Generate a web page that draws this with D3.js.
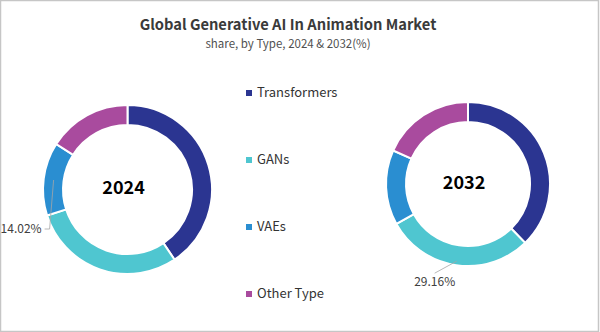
<!DOCTYPE html>
<html>
<head>
<meta charset="utf-8">
<script src="https://cdn.jsdelivr.net/npm/d3@7"></script>
<style>
  body { margin: 0; background: #fff; }
  svg { display: block; font-family: "Noto Sans CJK KR", "Noto Sans", sans-serif; }
</style>
</head>
<body>
<div id="chart"></div>
<script>
// data
var types = ["Transformers", "GANs", "VAEs", "Other Type"];
var colors = ["#2b3591", "#4fc6d0", "#2a8ed1", "#a94b9e"];
var share2024 = [40.6, 29.42, 14.02, 15.96];
var share2032 = [37.74, 29.16, 14.8, 18.3];
var years = ["2024", "2032"];

var width = 600, height = 332;

var svg = d3.select("#chart").append("svg")
  .attr("width", width)
  .attr("height", height);

// frame
svg.append("rect")
  .attr("x", 0.5).attr("y", 0.5)
  .attr("width", width - 2).attr("height", height - 1)
  .style("fill", "white")
  .style("stroke", "#c6c6c6")
  .style("stroke-width", 1.5);

svg.append("text")
  .attr("x", 288).attr("y", 30)
  .attr("text-anchor", "middle")
  .style("font-size", "14.7px")
  .style("font-weight", "bold")
  .style("fill", "#3a3a3a")
  .text("Global Generative AI In Animation Market");

svg.append("text")
  .attr("x", 288).attr("y", 48)
  .attr("text-anchor", "middle")
  .style("font-size", "11.5px")
  .style("fill", "#505050")
  .text("share, by Type, 2024 & 2032(%)");

var color = d3.scaleOrdinal().domain(types).range(colors);

var pie = d3.pie().sort(null).value(function(d) { return d.value; });

var donuts = [
  { year: years[0], values: share2024, cx: 127.5, cy: 189.5, r: 84.5, label: 2 },
  { year: years[1], values: share2032, cx: 468, cy: 184, r: 82, label: 1 }
];

donuts.forEach(function(dn) {
  var rows = types.map(function(t, i) { return { type: t, value: dn.values[i] }; });
  var arcs = pie(rows);
  var inner = dn.r - 20;
  var arc = d3.arc().innerRadius(inner).outerRadius(dn.r);

  var g = svg.append("g").attr("transform", "translate(" + dn.cx + "," + dn.cy + ")");

  g.selectAll("path")
    .data(arcs)
    .enter()
    .append("path")
      .attr("d", arc)
      .style("fill", function(d) { return color(d.data.type); })
      .style("stroke", "white")
      .style("stroke-width", 2);

  g.append("text")
    .attr("x", -4).attr("y", 0)
    .attr("text-anchor", "middle")
    .attr("dominant-baseline", "middle")
    .style("font-size", "18px")
    .style("font-weight", "bold")
    .style("fill", "#000")
    .text(dn.year);

  // one labelled slice per donut
  var a = arcs[dn.label];
  var mid = (a.startAngle + a.endAngle) / 2;
  var lbl = d3.format(".2f")(a.data.value) + "%";
  if (dn.label == 2) {
    var rr = inner + 10;
    var px = Math.sin(mid) * rr, py = -Math.cos(mid) * rr;
    g.append("polyline")
      .attr("points", [[px, py], [px - 4, py + 49], [px - 9, py + 49]].join(" "))
      .style("fill", "none")
      .style("stroke", "#a6a6a6")
      .style("stroke-width", 0.8);
    g.append("text")
      .attr("x", px - 12).attr("y", py + 50)
      .attr("text-anchor", "end")
      .attr("dominant-baseline", "middle")
      .style("font-size", "12px")
      .style("fill", "#404040")
      .text(lbl);
  } else {
    var rr = dn.r - 4;
    var px = Math.sin(mid) * rr, py = -Math.cos(mid) * rr;
    g.append("line")
      .attr("x1", px).attr("y1", py)
      .attr("x2", px - 22).attr("y2", py + 12)
      .style("stroke", "#a6a6a6")
      .style("stroke-width", 0.8);
    g.append("text")
      .attr("x", px - 22).attr("y", py + 22)
      .attr("text-anchor", "middle")
      .attr("dominant-baseline", "middle")
      .style("font-size", "12px")
      .style("fill", "#404040")
      .text(lbl);
  }
});

// legend
var legendY = d3.scalePoint().domain(types).range([93, 294]);

var legend = svg.selectAll(".legend")
  .data(types)
  .enter()
  .append("g")
    .attr("class", "legend")
    .attr("transform", function(d) { return "translate(246," + legendY(d) + ")"; });

legend.append("rect")
  .attr("x", 0).attr("y", -3)
  .attr("width", 6).attr("height", 6)
  .style("fill", function(d) { return color(d); });

legend.append("text")
  .attr("x", 11).attr("y", 0)
  .attr("dominant-baseline", "middle")
  .style("font-size", "13px")
  .style("fill", "#333")
  .text(function(d) { return d; });
</script>
</body>
</html>
